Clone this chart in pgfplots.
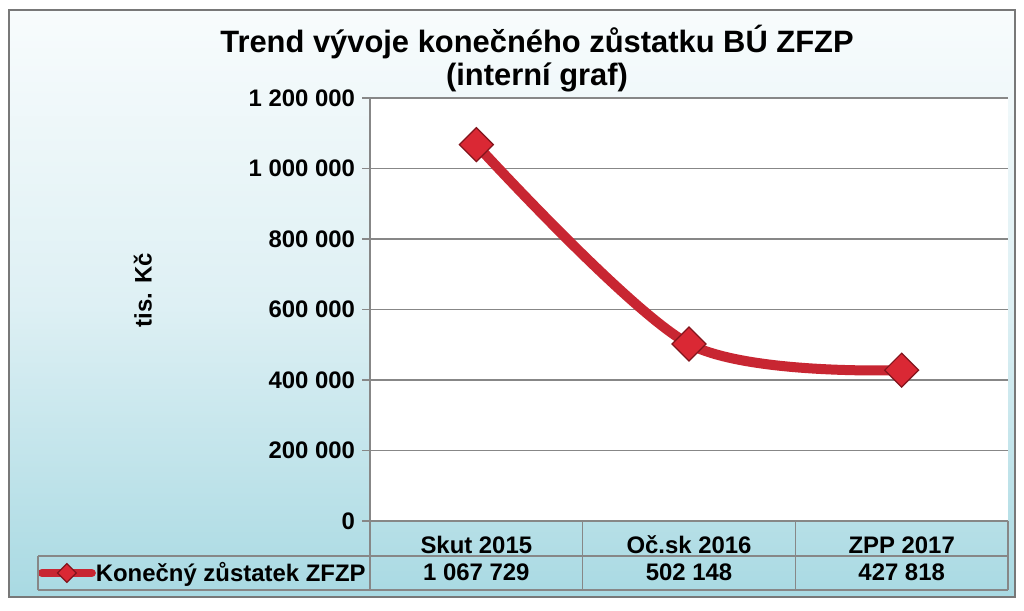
\documentclass[border=0pt]{standalone}
\usepackage{pgfplots}
\pgfplotsset{compat=1.18}
\usepackage{fontspec}
\setmainfont{Liberation Sans}
\definecolor{linered}{RGB}{200,38,50}
\definecolor{markred}{RGB}{218,40,52}
\definecolor{markdark}{RGB}{130,20,28}
\definecolor{bgblue}{RGB}{158,213,223}
\definecolor{bgmid}{RGB}{222,240,244}
\definecolor{gridgray}{RGB}{135,135,135}
\definecolor{framegray}{RGB}{120,120,120}
\pgfdeclareverticalshading{chartbg}{100bp}{color(0bp)=(bgblue); color(20bp)=(bgblue); color(50bp)=(bgmid); color(82bp)=(white); color(100bp)=(white)}
\begin{document}
\begin{tikzpicture}[x=0.5bp,y=0.5bp]
\path[use as bounding box, fill=white] (0,0) rectangle (1024,611);
\shade[shading=chartbg] (9,14) rectangle (1015,601);
\draw[framegray, line width=1.2bp] (9,14) rectangle (1015,601);
\node[font=\bfseries\fontsize{15.5}{16.5}\selectfont, align=center] at (537,552) {Trend vývoje konečného zůstatku BÚ ZFZP\\(interní graf)};
\begin{axis}[at={(185bp,45bp)}, anchor=south west, scale only axis, width=319bp, height=211.5bp,
 xmin=-0.5, xmax=2.5, ymin=0, ymax=1200000,
 scaled y ticks=false,
 xtick={0,1,2}, xticklabels={Skut 2015, Oč.sk 2016, ZPP 2017},
 major x tick style={draw=none},
 ytick={0,200000,400000,600000,800000,1000000,1200000},
 yticklabels={0, 200 000, 400 000, 600 000, 800 000, 1 000 000, 1 200 000},
 axis x line*=bottom, axis y line*=left,
 ymajorgrids, grid style={gridgray, line width=0.75bp},
 axis line style={gridgray, line width=0.75bp},
 tick align=outside, major tick length=4bp,
 y tick style={gridgray, line width=0.75bp},
 ticklabel style={font=\bfseries\fontsize{12}{14}\selectfont},
 xticklabel style={anchor=base, yshift=-12.25bp},
 axis background/.style={fill=white},
 clip=false,
 ylabel={tis. Kč},
 ylabel style={at={(axis description cs:-0.356,0.546)}, anchor=center, font=\bfseries\fontsize{12}{14}\selectfont},
 legend style={at={(axis description cs:-0.0063,-0.1229)}, anchor=east, draw=none, fill=none, inner sep=0pt,
   nodes={inner xsep=0pt},
   font=\bfseries\fontsize{12}{14}\selectfont, /tikz/every even column/.append style={column sep=0.5bp}},
 legend image code/.code={\draw[#1, line width=4bp, line cap=round, mark repeat=2, mark phase=2, every mark/.append style={scale=0.55}] plot coordinates {(0bp,0bp) (12.5bp,0bp) (25bp,0bp)};},
]
\addplot[linered, line width=5bp, smooth, mark=square*, mark size=6bp,
  mark options={rotate=45, fill=markred, draw=markdark, line width=0.6bp}]
  coordinates {(0,1067729) (1,502148) (2,427818)};
\addlegendentry{Konečný zůstatek ZFZP}
\node[anchor=base, yshift=-29.75bp, font=\bfseries\fontsize{12}{14}\selectfont] at (axis cs:0,0) {1 067 729};
\node[anchor=base, yshift=-29.75bp, font=\bfseries\fontsize{12}{14}\selectfont] at (axis cs:1,0) {502 148};
\node[anchor=base, yshift=-29.75bp, font=\bfseries\fontsize{12}{14}\selectfont] at (axis cs:2,0) {427 818};
\end{axis}
\draw[gridgray, line width=0.75bp] (38,55) -- (1008,55);
\draw[gridgray, line width=0.75bp] (38,21) -- (1008,21);
\draw[gridgray, line width=0.75bp] (38,55) -- (38,21);
\draw[gridgray, line width=0.75bp] (370,90) -- (370,21);
\draw[gridgray, line width=0.75bp] (582.7,90) -- (582.7,21);
\draw[gridgray, line width=0.75bp] (795.3,90) -- (795.3,21);
\draw[gridgray, line width=0.75bp] (1008,90) -- (1008,21);
\end{tikzpicture}
\end{document}
